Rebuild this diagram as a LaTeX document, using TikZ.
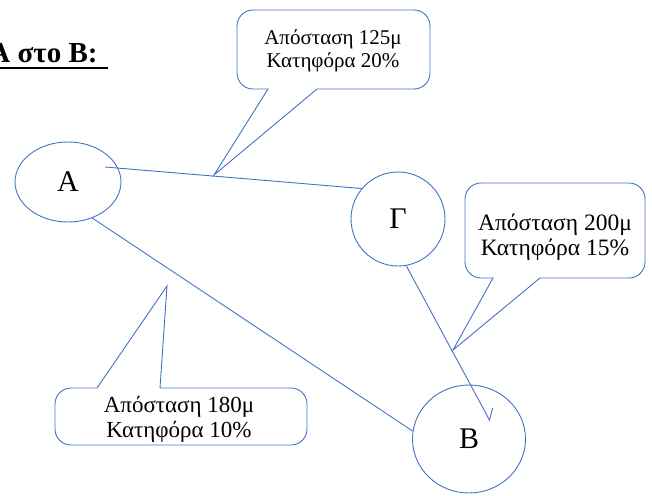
\documentclass[tikz,border=0pt]{standalone}
\usepackage{fontspec}
\setmainfont{Liberation Serif}
\usetikzlibrary{shapes, arrows.meta, positioning}
\definecolor{wordblue}{RGB}{68,114,196}
\tikzstyle{place}=[ellipse, draw=wordblue, inner sep=0pt, font=\fontsize{30}{34}\selectfont]
\tikzstyle{bubble}=[draw=wordblue, fill=white]
\tikzstyle{note}=[align=center, inner sep=0pt]

\begin{document}
\begin{tikzpicture}[x=1pt, y=-1pt, line width=0.9pt]
\useasboundingbox (0,0) rectangle (652,495);
\node [anchor=base east, inner sep=0pt, font=\bfseries\fontsize{29}{34}\selectfont] (title) at (98,62) {Α στο Β:};
\draw [line width=2pt] (0,68) -- (108,68);
% callouts
\coordinate (t1) at (214,175); \coordinate (t2) at (453,350); \coordinate (t3) at (167,286);
\draw [bubble] (t1) -- (268,89) [rounded corners=16pt] -- (237,89) -- (237,10) -- (430,10) -- (430,89) [sharp corners] -- (317,89) -- cycle;
\draw [bubble] (t2) -- (493,278) [rounded corners=16pt] -- (465,278) -- (465,183) -- (645,183) -- (645,278) [sharp corners] -- (540,278) -- cycle;
\draw [bubble] (t3) -- (160,388) [rounded corners=16pt] -- (307,388) -- (307,445) -- (55,445) -- (55,388) [sharp corners] -- (97,388) -- cycle;
\node [note, font=\fontsize{21}{23}\selectfont] (n1) at (333,51) {Απόσταση 125μ\\Κατηφόρα 20\%};
\node [note, font=\fontsize{23.5}{25}\selectfont] (n2) at (555,237) {Απόσταση 200μ\\Κατηφόρα 15\%};
\node [note, font=\fontsize{23}{25}\selectfont] (n3) at (179,419) {Απόσταση 180μ\\Κατηφόρα 10\%};
% places
\node [place, minimum width=106pt, minimum height=80pt] (A) at (68,182) {Α};
\node [place, minimum width=94pt, minimum height=94pt] (G) at (398,219) {Γ};
\node [place, minimum width=113pt, minimum height=108pt] (B) at (469,439) {Β};
\coordinate (a1) at (105,167); \coordinate (b1) at (490,421);
\draw [wordblue] (a1) -- (G.140);
\draw [wordblue] (A.-56) -- (B.172);
\draw [wordblue, -{Straight Barb[harpoon, length=9pt, width=17pt]}] (G.-80) -- (b1);
\end{tikzpicture}
\end{document}
